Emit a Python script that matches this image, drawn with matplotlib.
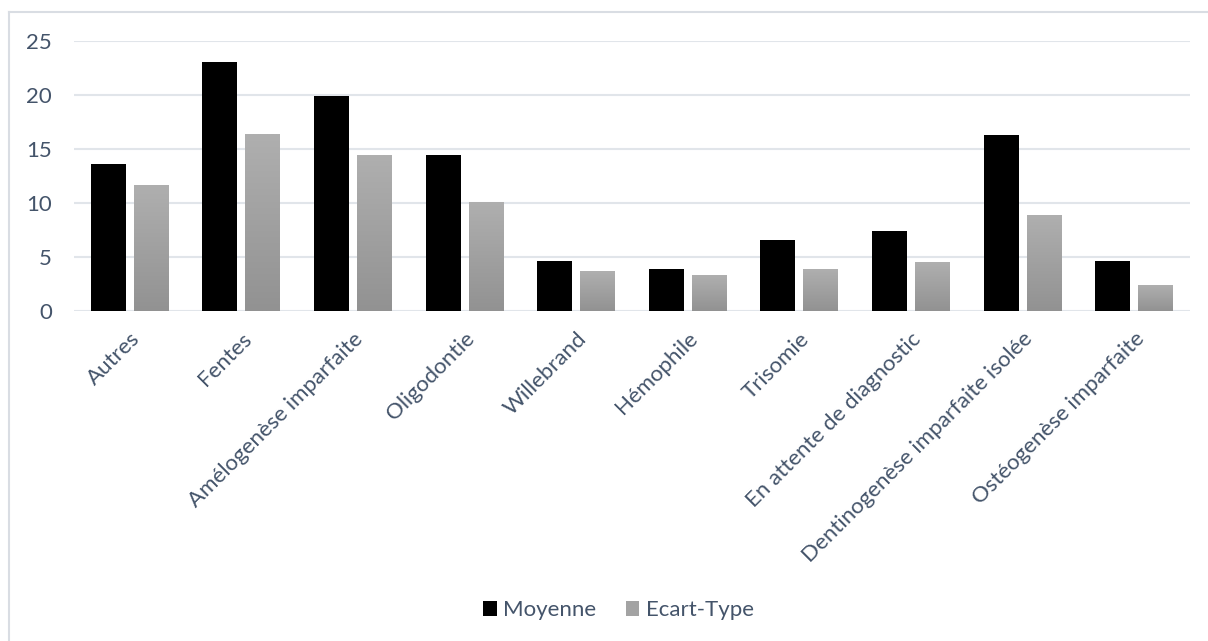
import matplotlib
matplotlib.use("Agg")
import matplotlib.pyplot as plt
import numpy as np
from matplotlib.colors import LinearSegmentedColormap
from matplotlib.lines import Line2D
from matplotlib.patches import Patch

categories = [
    "Autres", "Fentes", "Amélogenèse imparfaite", "Oligodontie", "Willebrand",
    "Hémophile", "Trisomie", "En attente de diagnostic",
    "Dentinogenèse imparfaite isolée", "Ostéogenèse imparfaite",
]
moyenne = [13.6, 23.05, 19.9, 14.4, 4.6, 3.9, 6.55, 7.4, 16.25, 4.6]
ecart_type = [11.65, 16.35, 14.4, 10.05, 3.7, 3.3, 3.85, 4.5, 8.85, 2.4]
yticks = [0, 5, 10, 15, 20, 25]

TEXT = "#44546a"
GRID = "#e1e5ea"
plt.rcParams["font.family"] = ["Lato", "DejaVu Sans"]

W, H = 1208, 641
fig = plt.figure(figsize=(W / 100, H / 100), dpi=100)
ax = fig.add_axes([74 / W, 1 - 310.7 / H, 1116 / W, 270 / H])

x = np.arange(len(categories))
width = 0.313
off = 0.193
ax.bar(x - off, moyenne, width, color="black", zorder=3)
gray_bars = ax.bar(x + off, ecart_type, width, color="none", zorder=3)

# vertical gradient on the grey bars, light at top, darker at bottom
cmap = LinearSegmentedColormap.from_list("g", ["#929292", "#afafaf"])
grad = np.linspace(0, 1, 128).reshape(-1, 1)
for rect in gray_bars:
    x0, w, h = rect.get_x(), rect.get_width(), rect.get_height()
    ax.imshow(grad, extent=(x0, x0 + w, 0, h), origin="lower", cmap=cmap,
              aspect="auto", zorder=3)

ax.set_xlim(-0.5, len(categories) - 0.5)
ax.set_ylim(0, 25)
ax.set_yticks(yticks)
ax.yaxis.grid(True, color=GRID, linewidth=1.5, zorder=0)
ax.set_axisbelow(True)
for s in ax.spines.values():
    s.set_visible(False)
ax.tick_params(axis="y", length=0, pad=16, labelsize=16, labelcolor=TEXT)
ax.tick_params(axis="x", length=0, pad=13, labelsize=16, labelcolor=TEXT)
ax.set_xticks(x)
ax.set_xticklabels(categories, rotation=45, ha="right", rotation_mode="anchor")

handles = [Patch(facecolor="black"), Patch(facecolor="#a3a3a3")]
fig.legend(handles, ["Moyenne", "Ecart-Type"], loc="center",
           bbox_to_anchor=(0.512, 0.048), ncol=2, frameon=False, fontsize=16,
           labelcolor=TEXT, handlelength=0.62, handleheight=0.62,
           handletextpad=0.3, columnspacing=1.3)

# chart-area border (only left and top edges fall inside the picture)
fig.add_artist(Line2D([9.3 / W, 9.3 / W], [0, 1 - 11.7 / H], color="#d9dde3",
                      linewidth=1.5, transform=fig.transFigure))
fig.add_artist(Line2D([9.3 / W, 1], [1 - 11.7 / H, 1 - 11.7 / H],
                      color="#d9dde3", linewidth=1.5, transform=fig.transFigure))

fig.savefig("out.png", dpi=100)
